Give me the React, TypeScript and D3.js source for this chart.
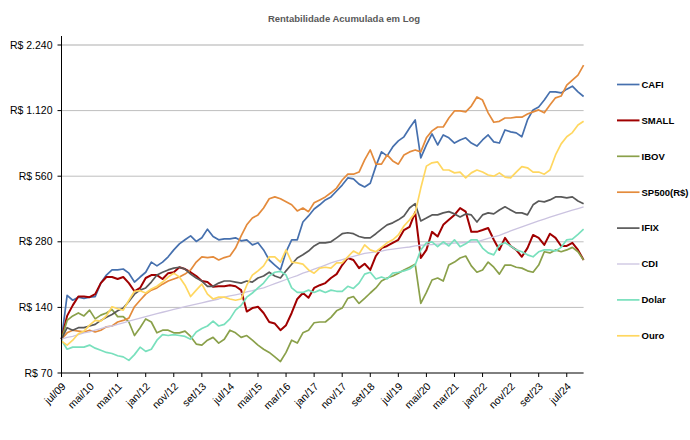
import React from 'react';
import * as d3 from 'd3';

// month index since jul/2009, sampled every 2 months up to jan/2025
const months = d3.range(0, 187, 2);
const tickMonths = d3.range(0, 181, 10);
const tickLabels = ['jul/09', 'mai/10', 'mar/11', 'jan/12', 'nov/12', 'set/13', 'jul/14', 'mai/15', 'mar/16', 'jan/17', 'nov/17', 'set/18', 'jul/19', 'mai/20', 'mar/21', 'jan/22', 'nov/22', 'set/23', 'jul/24'];
const yTicks = [70, 140, 280, 560, 1120, 2240];
const yTickLabels = ['R$ 70', 'R$ 140', 'R$ 280', 'R$ 560', 'R$ 1.120', 'R$ 2.240'];

const seriesNames = ['CAFI', 'SMALL', 'IBOV', 'SP500(R$)', 'IFIX', 'CDI', 'Dolar', 'Ouro'];
const seriesColors = ['#4670AE', '#A00000', '#8AA04A', '#E48B3C', '#595959', '#CBC3E0', '#79E0BD', '#FFD760'];

const cafi = [100, 159, 151, 156, 154, 156, 157, 181, 197, 208,
  208, 210, 201, 183, 193, 203, 226, 217, 226, 239,
  257, 274, 286, 298, 281, 292, 320, 296, 286, 289,
  289, 292, 283, 286, 271, 277, 257, 231, 219, 208,
  252, 286, 286, 345, 368, 396, 414, 436, 450, 479,
  510, 550, 544, 515, 500, 520, 623, 724, 694, 763,
  813, 849, 932, 1015, 680, 779, 875, 779, 866, 840,
  795, 821, 840, 795, 770, 821, 866, 805, 795, 913,
  895, 885, 849, 1015, 1128, 1164, 1252, 1365, 1365, 1350,
  1405, 1450, 1365, 1300];
const small = [100, 128, 143, 157, 157, 156, 161, 181, 193, 193,
  189, 193, 181, 166, 172, 191, 197, 197, 189, 201,
  203, 214, 210, 203, 195, 185, 183, 174, 175, 175,
  177, 175, 168, 134, 139, 141, 132, 120, 118, 110,
  116, 132, 153, 163, 155, 172, 177, 181, 191, 199,
  219, 236, 231, 212, 222, 208, 241, 262, 268, 277,
  286, 317, 328, 383, 236, 257, 311, 296, 335, 353,
  372, 400, 385, 311, 311, 317, 324, 286, 257, 292,
  268, 257, 239, 262, 301, 292, 271, 305, 292, 268,
  268, 277, 257, 231];
const ibov = [100, 122, 128, 132, 128, 136, 124, 129, 132, 137,
  127, 127, 120, 104, 113, 124, 120, 107, 110, 110,
  107, 107, 109, 103, 95, 94, 99, 102, 96, 100,
  110, 107, 102, 104, 99, 94, 90, 87, 83, 79,
  87, 99, 96, 107, 110, 119, 120, 120, 126, 135,
  139, 154, 157, 146, 154, 163, 172, 185, 191, 195,
  201, 208, 214, 221, 146, 164, 187, 191, 185, 219,
  226, 236, 241, 217, 203, 208, 226, 214, 199, 219,
  219, 214, 212, 206, 203, 219, 252, 249, 257, 252,
  257, 264, 252, 231];
const sp500 = [100, 107, 110, 109, 108, 110, 108, 110, 114, 115,
  120, 122, 125, 141, 151, 161, 168, 172, 179, 185,
  189, 193, 199, 208, 226, 239, 237, 239, 231, 237,
  241, 262, 298, 335, 360, 372, 400, 441, 450, 441,
  427, 414, 388, 400, 385, 423, 436, 450, 470, 494,
  538, 572, 572, 585, 665, 739, 636, 636, 701, 658,
  636, 701, 724, 739, 724, 840, 904, 942, 942, 1036,
  1116, 1116, 1105, 1175, 1294, 1252, 1094, 990, 1000, 1036,
  1036, 1045, 1045, 1080, 1105, 1128, 1094, 1188, 1282, 1306,
  1467, 1547, 1630, 1811];
const ifix = [100, 113, 110, 113, 113, 115, 117, 122, 126, 130,
  135, 139, 149, 161, 168, 172, 183, 197, 203, 208,
  212, 214, 210, 199, 191, 185, 175, 175, 181, 185,
  185, 183, 181, 185, 183, 191, 195, 203, 195, 191,
  206, 221, 236, 244, 254, 268, 277, 277, 280, 292,
  305, 308, 305, 296, 292, 292, 305, 320, 335, 342,
  353, 368, 400, 419, 349, 360, 372, 372, 380, 385,
  376, 364, 376, 372, 345, 372, 380, 376, 392, 405,
  392, 380, 380, 372, 414, 431, 427, 436, 450, 450,
  445, 450, 431, 419];
const cdi = [100, 102, 103, 105, 107, 108, 110, 112, 114, 115,
  117, 119, 121, 123, 125, 127, 129, 131, 133, 135,
  137, 139, 141, 143, 145, 147, 149, 151, 153, 156,
  158, 160, 162, 165, 167, 170, 172, 176, 180, 184,
  188, 192, 196, 201, 205, 210, 214, 219, 224, 228,
  232, 236, 240, 244, 248, 250, 252, 254, 257, 259,
  261, 263, 265, 268, 270, 271, 272, 273, 274, 275,
  276, 277, 278, 279, 280, 285, 290, 295, 300, 307,
  314, 321, 328, 335, 342, 349, 356, 363, 370, 377,
  384, 391, 398, 405];
const dolar = [99, 90, 92, 92, 92, 94, 91, 89, 87, 86,
  84, 83, 80, 85, 92, 88, 90, 99, 105, 104,
  105, 104, 103, 100, 108, 112, 115, 121, 115, 117,
  124, 136, 143, 156, 163, 172, 181, 195, 203, 205,
  197, 172, 164, 164, 168, 164, 168, 164, 168, 166,
  166, 175, 171, 181, 199, 203, 189, 193, 189, 201,
  203, 206, 210, 219, 257, 277, 280, 266, 280, 268,
  286, 266, 274, 286, 286, 262, 249, 244, 271, 277,
  268, 257, 252, 244, 239, 252, 257, 257, 254, 264,
  286, 288, 303, 320];
const ouro = [98, 94, 99, 106, 109, 116, 122, 121, 128, 141,
  138, 136, 151, 166, 167, 163, 170, 175, 183, 193,
  201, 193, 177, 157, 168, 179, 161, 153, 156, 156,
  153, 151, 153, 177, 197, 206, 217, 239, 239, 226,
  257, 226, 224, 221, 208, 201, 212, 214, 212, 224,
  224, 239, 254, 246, 271, 257, 252, 264, 277, 286,
  301, 331, 353, 380, 494, 623, 645, 651, 598, 598,
  580, 585, 550, 580, 598, 585, 567, 560, 580, 555,
  550, 585, 620, 612, 585, 585, 572, 598, 701, 788,
  850, 888, 962, 1000];

const seriesValues = [cafi, small, ibov, sp500, ifix, cdi, dolar, ouro];
const seriesWidths = [1.7, 2, 1.7, 1.7, 1.7, 1.3, 1.7, 1.7];

const FONT = '"Liberation Sans", Arial, sans-serif';

export default function App() {
  const W = 690, H = 440;
  const x0 = 61.5, x1 = 583.6, yTop = 45, yBot = 373;
  const x = d3.scaleLinear().domain([0, 186]).range([x0, x1]);
  const y = d3.scaleLog().base(2).domain([70, 2240]).range([yBot, yTop]);

  const line = d3.line<[number, number]>()
    .x(d => x(d[0]))
    .y(d => y(d[1]));

  const legendY0 = 84.5, legendStep = 35.9;

  return (
    <svg width={W} height={H} style={{ display: 'block', position: 'absolute', left: 0, top: 0, background: '#fff' }} fontFamily={FONT}>
      <rect x={0} y={0} width={W} height={H} fill="#fff" />
      <text x={344} y={22} textAnchor="middle" fontSize={9.5} fontWeight="bold" fill="#595959">Rentabilidade Acumulada em Log</text>

      {/* gridlines */}
      {yTicks.slice(1).map((t, i) => (
        <line key={'g' + i} x1={x0} x2={x1} y1={y(t)} y2={y(t)}
          stroke={t === 2240 ? '#D6D6D6' : '#BEBEBE'} strokeWidth={t === 2240 ? 2 : 1} />
      ))}

      {/* series */}
      {seriesValues.map((vals, si) => {
        const pts: [number, number][] = months.slice(0, vals.length).map((m, i) => [m, vals[i]]);
        return (
          <path key={'s' + si} d={line(pts) || ''} fill="none" stroke={seriesColors[si]}
            strokeWidth={seriesWidths[si]} strokeLinejoin="round" />
        );
      })}

      {/* y axis */}
      <line x1={x0} x2={x0} y1={36} y2={yBot} stroke="#000" strokeWidth={1} />
      {yTicks.map((t, i) => (
        <g key={'yt' + i}>
          <line x1={x0 - 4} x2={x0} y1={y(t)} y2={y(t)} stroke="#000" />
          <text x={x0 - 9} y={y(t)} dy="0.35em" textAnchor="end" fontSize={10.5} fill="#000">{yTickLabels[i]}</text>
        </g>
      ))}

      {/* x axis */}
      <line x1={x0} x2={x1} y1={yBot} y2={yBot} stroke="#000" strokeWidth={1} />
      {tickMonths.map((m, i) => (
        <g key={'xt' + i}>
          <line x1={x(m)} x2={x(m)} y1={yBot} y2={yBot + 4} stroke="#000" />
          <text transform={`translate(${x(m) + 5},${yBot + 14}) rotate(-45)`} textAnchor="end" fontSize={10.5} fill="#000">{tickLabels[i]}</text>
        </g>
      ))}

      {/* legend */}
      {seriesNames.map((n, i) => {
        const ly = legendY0 + i * legendStep;
        return (
          <g key={'l' + i}>
            <line x1={617} x2={639.5} y1={ly} y2={ly} stroke={seriesColors[i]} strokeWidth={seriesWidths[i]} />
            <text x={641.5} y={ly} dy="0.35em" fontSize={9.5} fontWeight="bold" fill="#000">{n}</text>
          </g>
        );
      })}
    </svg>
  );
}
